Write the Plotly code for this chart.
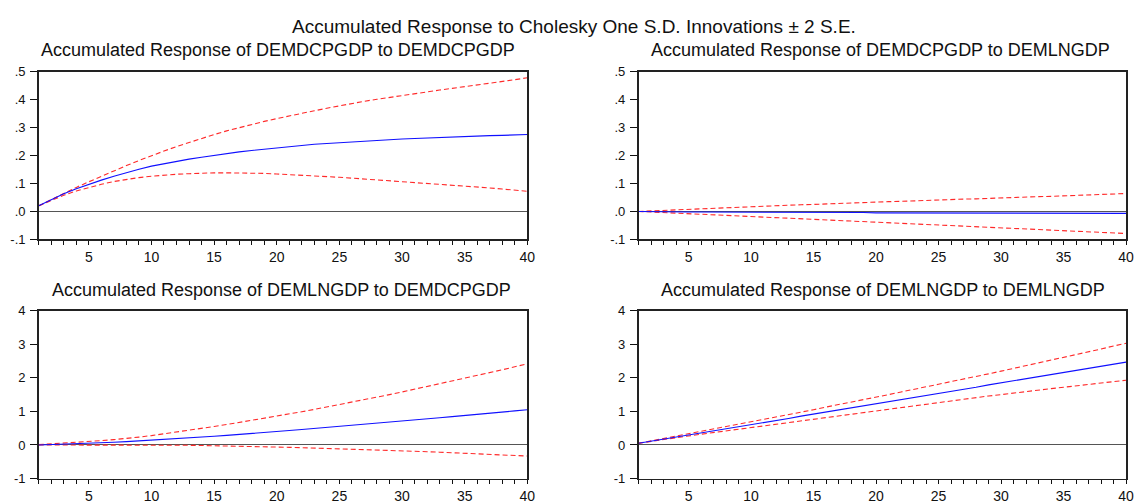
import plotly.graph_objects as go

W, H = 1147, 504

periods = list(range(1, 41))
x_tick_vals = [5, 10, 15, 20, 25, 30, 35, 40]
x_tick_text = ["5", "10", "15", "20", "25", "30", "35", "40"]

top_y_vals = [-0.1, 0.0, 0.1, 0.2, 0.3, 0.4, 0.5]
top_y_text = ["-.1", ".0", ".1", ".2", ".3", ".4", ".5"]
bot_y_vals = [-1, 0, 1, 2, 3, 4]
bot_y_text = ["-1", "0", "1", "2", "3", "4"]

main_title = "Accumulated Response to Cholesky One S.D. Innovations \u00b1 2 S.E."
panel_titles = [
    "Accumulated Response of DEMDCPGDP to DEMDCPGDP",
    "Accumulated Response of DEMDCPGDP to DEMLNGDP",
    "Accumulated Response of DEMLNGDP to DEMDCPGDP",
    "Accumulated Response of DEMLNGDP to DEMLNGDP",
]

# Panel 1: DEMDCPGDP to DEMDCPGDP
p1_resp = [0.020, 0.043, 0.063, 0.081, 0.097, 0.112, 0.126, 0.139, 0.151, 0.162,
           0.171, 0.179, 0.187, 0.194, 0.201, 0.207, 0.213, 0.218, 0.223, 0.228,
           0.232, 0.236, 0.240, 0.243, 0.246, 0.249, 0.252, 0.254, 0.257, 0.259,
           0.261, 0.263, 0.265, 0.267, 0.268, 0.270, 0.271, 0.272, 0.274, 0.275]
p1_upper = [0.020, 0.043, 0.065, 0.086, 0.106, 0.126, 0.145, 0.164, 0.182, 0.200,
            0.216, 0.232, 0.247, 0.261, 0.275, 0.288, 0.300, 0.311, 0.322, 0.332,
            0.342, 0.351, 0.360, 0.369, 0.378, 0.386, 0.394, 0.401, 0.408, 0.415,
            0.421, 0.428, 0.434, 0.440, 0.446, 0.451, 0.457, 0.464, 0.471, 0.478]
p1_lower = [0.020, 0.040, 0.058, 0.073, 0.086, 0.097, 0.107, 0.115, 0.121, 0.126,
            0.130, 0.133, 0.135, 0.137, 0.138, 0.138, 0.138, 0.137, 0.136, 0.134,
            0.132, 0.130, 0.128, 0.125, 0.122, 0.119, 0.116, 0.113, 0.110, 0.107,
            0.104, 0.101, 0.098, 0.094, 0.091, 0.087, 0.084, 0.080, 0.076, 0.072]

# Panel 2: DEMDCPGDP to DEMLNGDP
p2_resp = [0.000, -0.001, -0.001, -0.001, -0.002, -0.002, -0.002, -0.002, -0.003, -0.003,
           -0.003, -0.003, -0.003, -0.004, -0.004, -0.004, -0.004, -0.004, -0.004, -0.005,
           -0.005, -0.005, -0.005, -0.005, -0.005, -0.005, -0.006, -0.006, -0.006, -0.006,
           -0.006, -0.006, -0.006, -0.006, -0.007, -0.007, -0.007, -0.007, -0.007, -0.007]
p2_upper = [0.000, 0.002, 0.004, 0.006, 0.008, 0.010, 0.011, 0.013, 0.015, 0.017,
            0.019, 0.020, 0.022, 0.024, 0.025, 0.027, 0.029, 0.030, 0.032, 0.033,
            0.035, 0.036, 0.038, 0.039, 0.041, 0.042, 0.044, 0.045, 0.047, 0.048,
            0.050, 0.051, 0.053, 0.054, 0.056, 0.057, 0.059, 0.060, 0.062, 0.064]
p2_lower = [0.000, -0.002, -0.004, -0.006, -0.008, -0.010, -0.012, -0.014, -0.016, -0.018,
            -0.020, -0.022, -0.024, -0.026, -0.028, -0.030, -0.032, -0.034, -0.036, -0.038,
            -0.040, -0.042, -0.044, -0.046, -0.048, -0.050, -0.052, -0.054, -0.056, -0.058,
            -0.060, -0.062, -0.064, -0.066, -0.068, -0.070, -0.072, -0.074, -0.076, -0.079]

# Panel 3: DEMLNGDP to DEMDCPGDP
p3_resp = [0.000, 0.010, 0.020, 0.035, 0.050, 0.065, 0.080, 0.100, 0.120, 0.140,
           0.160, 0.185, 0.210, 0.235, 0.260, 0.285, 0.310, 0.340, 0.370, 0.400,
           0.430, 0.460, 0.490, 0.520, 0.550, 0.585, 0.615, 0.645, 0.680, 0.710,
           0.745, 0.775, 0.810, 0.845, 0.875, 0.910, 0.945, 0.980, 1.015, 1.050]
p3_upper = [0.010, 0.030, 0.050, 0.075, 0.100, 0.130, 0.160, 0.190, 0.235, 0.280,
            0.330, 0.380, 0.430, 0.490, 0.550, 0.610, 0.670, 0.730, 0.800, 0.870,
            0.930, 0.990, 1.060, 1.130, 1.200, 1.270, 1.350, 1.420, 1.500, 1.580,
            1.660, 1.740, 1.820, 1.900, 1.990, 2.070, 2.160, 2.240, 2.330, 2.420]
p3_lower = [0.000, 0.000, 0.005, 0.010, 0.010, 0.010, 0.010, 0.010, 0.005, 0.000,
            -0.005, -0.010, -0.010, -0.015, -0.020, -0.025, -0.030, -0.040, -0.050, -0.060,
            -0.070, -0.080, -0.090, -0.100, -0.110, -0.120, -0.130, -0.145, -0.160, -0.170,
            -0.185, -0.200, -0.215, -0.230, -0.245, -0.260, -0.275, -0.290, -0.310, -0.330]

# Panel 4: DEMLNGDP to DEMLNGDP
p4_resp = [0.05, 0.11, 0.17, 0.24, 0.30, 0.36, 0.42, 0.48, 0.55, 0.61,
           0.67, 0.73, 0.79, 0.86, 0.92, 0.98, 1.04, 1.10, 1.17, 1.23,
           1.29, 1.35, 1.41, 1.48, 1.54, 1.60, 1.66, 1.72, 1.79, 1.85,
           1.91, 1.97, 2.03, 2.10, 2.16, 2.22, 2.28, 2.34, 2.41, 2.47]
p4_upper = [0.05, 0.12, 0.19, 0.26, 0.33, 0.40, 0.47, 0.54, 0.62, 0.69,
            0.76, 0.83, 0.91, 0.98, 1.05, 1.13, 1.20, 1.27, 1.35, 1.42,
            1.50, 1.58, 1.65, 1.73, 1.81, 1.89, 1.96, 2.04, 2.12, 2.20,
            2.28, 2.36, 2.45, 2.53, 2.61, 2.70, 2.78, 2.86, 2.95, 3.03]
p4_lower = [0.05, 0.11, 0.16, 0.22, 0.27, 0.32, 0.37, 0.42, 0.47, 0.52,
            0.57, 0.63, 0.68, 0.73, 0.78, 0.83, 0.88, 0.93, 0.98, 1.03,
            1.08, 1.13, 1.17, 1.22, 1.27, 1.32, 1.36, 1.41, 1.46, 1.50,
            1.55, 1.59, 1.63, 1.68, 1.72, 1.76, 1.81, 1.85, 1.89, 1.93]

panels = [
    (p1_resp, p1_upper, p1_lower),
    (p2_resp, p2_upper, p2_lower),
    (p3_resp, p3_upper, p3_lower),
    (p4_resp, p4_upper, p4_lower),
]

FONT = "Liberation Sans, Arial, sans-serif"

# pixel geometry of plot areas (left, right, top, bottom)
boxes = [
    (39, 531, 67, 241),
    (643, 1134, 67, 241),
    (39, 531, 315, 489),
    (643, 1134, 315, 489),
]
title_centers = [(280, 45), (887, 45), (283, 293), (889, 293)]

fig = go.Figure()
for i, (resp, up, lo) in enumerate(panels):
    k = "" if i == 0 else str(i + 1)
    xa, ya = "x" + k, "y" + k
    for band in (up, lo):
        fig.add_trace(go.Scatter(x=periods, y=band, mode="lines", xaxis=xa, yaxis=ya,
                                 line=dict(color="#FF2A2A", width=1.1, dash="5px,3px"),
                                 showlegend=False, hoverinfo="skip"))
    fig.add_trace(go.Scatter(x=periods, y=resp, mode="lines", xaxis=xa, yaxis=ya,
                             line=dict(color="#1010FF", width=1.1),
                             showlegend=False, hoverinfo="skip"))

layout = dict(
    width=W, height=H,
    margin=dict(l=0, r=0, t=0, b=0),
    paper_bgcolor="white", plot_bgcolor="white",
    font=dict(family=FONT, color="#111111", size=13),
    annotations=[],
)

for i, (l, r, t, b) in enumerate(boxes):
    k = "" if i == 0 else str(i + 1)
    top = i < 2
    layout["xaxis" + k] = dict(
        domain=[l / W, r / W], anchor="y" + k, range=[1, 40],
        tickmode="array", tickvals=x_tick_vals, ticktext=x_tick_text,
        ticks="outside", ticklen=4, tickwidth=1, tickcolor="#111",
        minor=dict(ticks="outside", tickmode="array", tickvals=periods,
                   ticklen=4, tickwidth=1, tickcolor="#111", showgrid=False),
        showgrid=False, zeroline=False,
        showline=True, mirror=True, linecolor="#222", linewidth=1.6,
        tickfont=dict(size=14, family=FONT), fixedrange=True,
    )
    layout["yaxis" + k] = dict(
        domain=[1 - b / H, 1 - t / H], anchor="x" + k,
        range=[-0.1, 0.5] if top else [-1, 4],
        tickmode="array",
        tickvals=top_y_vals if top else bot_y_vals,
        ticktext=top_y_text if top else bot_y_text,
        ticks="outside", ticklen=7, tickwidth=1, tickcolor="#111",
        ticklabelstandoff=2,
        showgrid=False,
        zeroline=True, zerolinecolor="#555", zerolinewidth=1,
        showline=True, mirror=True, linecolor="#222", linewidth=1.6,
        tickfont=dict(size=13, family=FONT), fixedrange=True,
    )
    cx, cy = title_centers[i]
    layout["annotations"].append(dict(
        text=panel_titles[i], xref="paper", yref="paper",
        x=cx / W, y=1 - cy / H, xanchor="center", yanchor="middle",
        showarrow=False, font=dict(size=18, family=FONT, color="#111"),
    ))

layout["annotations"].append(dict(
    text=main_title, xref="paper", yref="paper",
    x=578 / W, y=1 - 20 / H, xanchor="center", yanchor="middle",
    showarrow=False, font=dict(size=19, family=FONT, color="#111"),
))

fig.update_layout(**layout)
fig.write_html(
    "out.html",
    config={"displayModeBar": False, "staticPlot": True},
    post_script="document.body.style.margin='0';document.body.style.padding='0';"
                "document.documentElement.style.overflow='hidden';",
)
